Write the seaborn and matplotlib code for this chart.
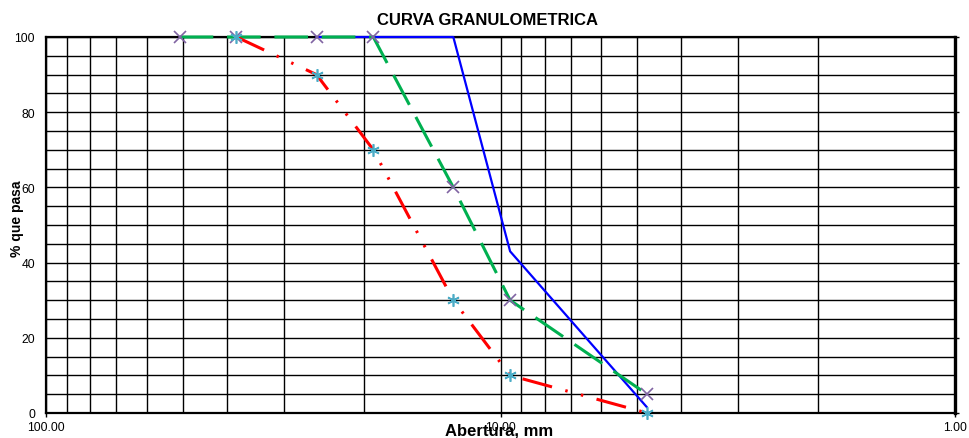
import matplotlib
matplotlib.use("Agg")
import matplotlib.pyplot as plt
import matplotlib.ticker as mticker
import numpy as np
import pandas as pd
import seaborn as sns

# Sieve openings (mm) and percent passing for each gradation curve
upper_sizes = [50.8, 38.1, 25.4, 19.05, 12.7, 9.525, 4.76]
upper_passing = [100, 100, 100, 100, 60, 30, 5]

lower_sizes = [38.1, 25.4, 19.05, 12.7, 9.525, 4.76]
lower_passing = [100, 90, 70, 30, 10, 0]

sample_sizes = [25.4, 19.05, 12.7, 9.525, 4.76]
sample_passing = [100, 100, 100, 43, 1.5]

x_major = [100, 10, 1]
x_major_labels = ["100.00", "10.00", "1.00"]
y_major = [0, 20, 40, 60, 80, 100]

sns.set_style("white")
plt.rcParams["font.family"] = ["Liberation Sans", "DejaVu Sans"]
plt.rcParams["text.color"] = "black"
plt.rcParams["axes.labelcolor"] = "black"

fig = plt.figure(figsize=(9.69, 4.39), dpi=100)
ax = fig.add_axes([46 / 969, 1 - 414 / 439, (955 - 46) / 969, (414 - 38) / 439])

GREEN = "#00B050"
RED = "#FF0000"
BLUE = "#0000FF"
PURPLE = "#8064A2"
CYAN = "#4BACC6"

upper = pd.DataFrame({"abertura": upper_sizes, "pasa": upper_passing})
lower = pd.DataFrame({"abertura": lower_sizes, "pasa": lower_passing})
sample = pd.DataFrame({"abertura": sample_sizes, "pasa": sample_passing})

sns.lineplot(data=sample, x="abertura", y="pasa", ax=ax, sort=False,
             color=BLUE, linewidth=1.6, zorder=3, clip_on=False)
sns.lineplot(data=upper, x="abertura", y="pasa", ax=ax, sort=False,
             color=GREEN, linewidth=2.2, linestyle=(0, (11, 4.5)),
             marker="x", markersize=8.5, markeredgewidth=1.2,
             markeredgecolor=PURPLE, zorder=4, clip_on=False)
sns.lineplot(data=lower, x="abertura", y="pasa", ax=ax, sort=False,
             color=RED, linewidth=2.2,
             linestyle=(0, (10, 4.5, 0.8, 4.5, 0.8, 4.5)),
             marker=(6, 2, 0), markersize=9, markeredgewidth=1.2,
             markeredgecolor=CYAN, zorder=4, clip_on=False)

ax.set_xscale("log")
ax.set_xlim(100, 1)
ax.set_ylim(0, 100)

ax.xaxis.set_major_locator(mticker.FixedLocator(x_major))
ax.xaxis.set_major_formatter(mticker.FixedFormatter(x_major_labels))
ax.xaxis.set_minor_locator(mticker.LogLocator(base=10, subs=np.arange(2, 10)))
ax.xaxis.set_minor_formatter(mticker.NullFormatter())

ax.yaxis.set_major_locator(mticker.FixedLocator(y_major))
ax.yaxis.set_minor_locator(mticker.MultipleLocator(5))

ax.grid(True, which="both", axis="both", color="black", linewidth=1.0)
ax.set_axisbelow(True)

for side in ["left", "bottom", "top", "right"]:
    ax.spines[side].set_visible(True)
    ax.spines[side].set_color("black")
    ax.spines[side].set_linewidth(1.6)
ax.spines["right"].set_linewidth(2.4)

ax.tick_params(axis="x", which="major", direction="out", length=3, width=1,
               pad=3, labelsize=8.7, colors="black", bottom=True)
ax.tick_params(axis="x", which="minor", length=0)
ax.tick_params(axis="y", which="major", direction="out", length=3, width=1,
               pad=5, labelsize=8.7, colors="black", left=False, right=True)
ax.tick_params(axis="y", which="minor", length=0)

ax.set_title("CURVA GRANULOMETRICA", fontsize=12, fontweight="bold",
             x=0.486, pad=9.4, color="black")

ax.set_xlabel("Abertura, mm", fontsize=12, fontweight="bold")
ax.xaxis.set_label_coords(0.498, -(431 - 414) / 376)
ax.xaxis.label.set_va("center")

ax.set_ylabel("% que pasa", fontsize=10, fontweight="bold")
ax.yaxis.set_label_coords((17 - 46) / 909, (414 - 219) / 376)
ax.yaxis.label.set_va("center")

fig.savefig("out.png", dpi=100)
